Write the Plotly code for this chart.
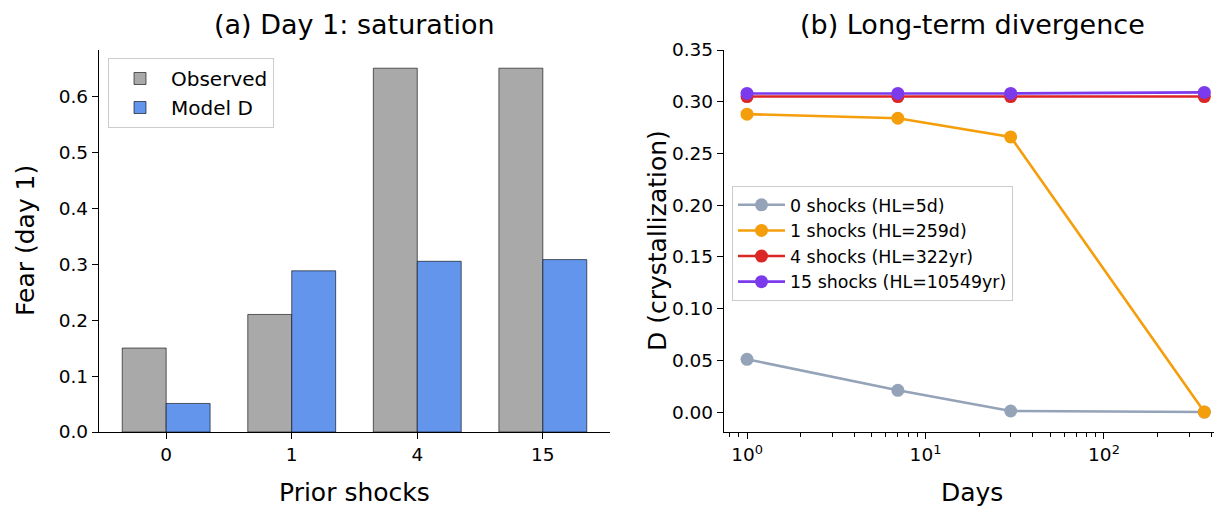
import plotly.graph_objects as go

# ---- data ----
shock_labels = ["0", "1", "4", "15"]
observed = [0.15, 0.21, 0.65, 0.65]
model_d = [0.051, 0.288, 0.305, 0.308]

days = [1, 7, 30, 365]
series_names = ["0 shocks (HL=5d)", "1 shocks (HL=259d)", "4 shocks (HL=322yr)", "15 shocks (HL=10549yr)"]
d_0 = [0.051, 0.021, 0.001, 0.000]
d_1 = [0.288, 0.284, 0.266, 0.000]
d_4 = [0.305, 0.305, 0.305, 0.305]
d_15 = [0.308, 0.308, 0.308, 0.309]
series_colors = ["#94a3b8", "#f59e0b", "#dc2626", "#7c3aed"]

# page body has an 8px margin, so the figure is drawn offset by 8px
OFF = 8
W, H = 1222 - OFF, 506 - OFF
FONT = "DejaVu Sans"

fig = go.Figure()
xpos = list(range(len(shock_labels)))
fig.add_trace(go.Bar(x=xpos, y=observed, name="Observed", marker=dict(color="#a9a9a9", line=dict(color="rgba(0,0,0,0.6)", width=1)),
                     xaxis="x", yaxis="y", legend="legend"))
fig.add_trace(go.Bar(x=xpos, y=model_d, name="Model D", marker=dict(color="#6495ED", line=dict(color="rgba(0,0,0,0.6)", width=1)),
                     xaxis="x", yaxis="y", legend="legend"))

for name, vals, col in zip(series_names, [d_0, d_1, d_4, d_15], series_colors):
    fig.add_trace(go.Scatter(x=days, y=vals, name=name, mode="lines+markers",
                             line=dict(color=col, width=2.6), marker=dict(color=col, size=13),
                             xaxis="x2", yaxis="y2", legend="legend2"))

def px_x(p):
    return (p - OFF) / W

def px_y(p):
    return 1 - (p - OFF) / H

axis_common = dict(showline=True, linecolor="black", linewidth=1.3, ticks="outside", ticklen=6, tickwidth=1.3,
                   tickcolor="black", showgrid=False, zeroline=False, automargin=False,
                   tickfont=dict(family=FONT, size=18.5, color="black"))

minor_vals = [0.8, 0.9] + [k for k in range(2, 10)] + [k * 10 for k in range(2, 10)] + [200, 300, 400]

fig.update_layout(
    width=W, height=H, margin=dict(l=0, r=0, t=0, b=0, autoexpand=False),
    plot_bgcolor="white", paper_bgcolor="white",
    barmode="group", bargap=0.3, bargroupgap=0,
    font=dict(family=FONT, color="black"),
    xaxis=dict(domain=[px_x(99), px_x(610)], range=[-0.535, 3.535], tickvals=xpos, ticktext=shock_labels,
               anchor="y", **axis_common),
    yaxis=dict(domain=[px_y(432), px_y(50)], range=[0, 0.6825], tickvals=[0, 0.1, 0.2, 0.3, 0.4, 0.5, 0.6],
               tickformat=".1f", anchor="x", **axis_common),
    xaxis2=dict(domain=[px_x(724), px_x(1220)], type="log", range=[-0.129, 2.65], tickvals=[1, 10, 100],
                ticktext=["10<sup>0</sup>", "10<sup>1</sup>", "10<sup>2</sup>"],
                minor=dict(tickvals=minor_vals, ticks="outside", ticklen=3.5, tickwidth=1, tickcolor="black"),
                anchor="y2", **axis_common),
    yaxis2=dict(domain=[px_y(432), px_y(50)], range=[-0.0193, 0.35],
                tickvals=[0, 0.05, 0.1, 0.15, 0.2, 0.25, 0.3, 0.35], tickformat=".2f",
                anchor="x2", **axis_common),
    legend=dict(x=px_x(108), y=px_y(58), xanchor="left", yanchor="top", bgcolor="white",
                bordercolor="#cccccc", borderwidth=1, font=dict(size=20, family=FONT),
                itemwidth=52),
    legend2=dict(x=px_x(732), y=px_y(186), xanchor="left", yanchor="top", bgcolor="white",
                 bordercolor="#cccccc", borderwidth=1, font=dict(size=17.4, family=FONT), itemwidth=47),
    annotations=[
        dict(text="(a) Day 1: saturation", x=(px_x(99) + px_x(610)) / 2, y=px_y(25), xref="paper", yref="paper",
             showarrow=False, font=dict(size=27, family=FONT), xanchor="center", yanchor="middle"),
        dict(text="(b) Long-term divergence", x=(px_x(724) + px_x(1220)) / 2, y=px_y(25), xref="paper", yref="paper",
             showarrow=False, font=dict(size=27, family=FONT), xanchor="center", yanchor="middle"),
        dict(text="Prior shocks", x=(px_x(99) + px_x(610)) / 2, y=px_y(492), xref="paper", yref="paper",
             showarrow=False, font=dict(size=25, family=FONT), xanchor="center", yanchor="middle"),
        dict(text="Days", x=(px_x(724) + px_x(1220)) / 2, y=px_y(492), xref="paper", yref="paper",
             showarrow=False, font=dict(size=25, family=FONT), xanchor="center", yanchor="middle"),
        dict(text="Fear (day 1)", x=px_x(25), y=px_y(241), xref="paper", yref="paper", textangle=-90,
             showarrow=False, font=dict(size=25, family=FONT), xanchor="center", yanchor="middle"),
        dict(text="D (crystallization)", x=px_x(657), y=px_y(241), xref="paper", yref="paper", textangle=-90,
             showarrow=False, font=dict(size=25, family=FONT), xanchor="center", yanchor="middle"),
    ],
)

fig.write_html("out.html")
